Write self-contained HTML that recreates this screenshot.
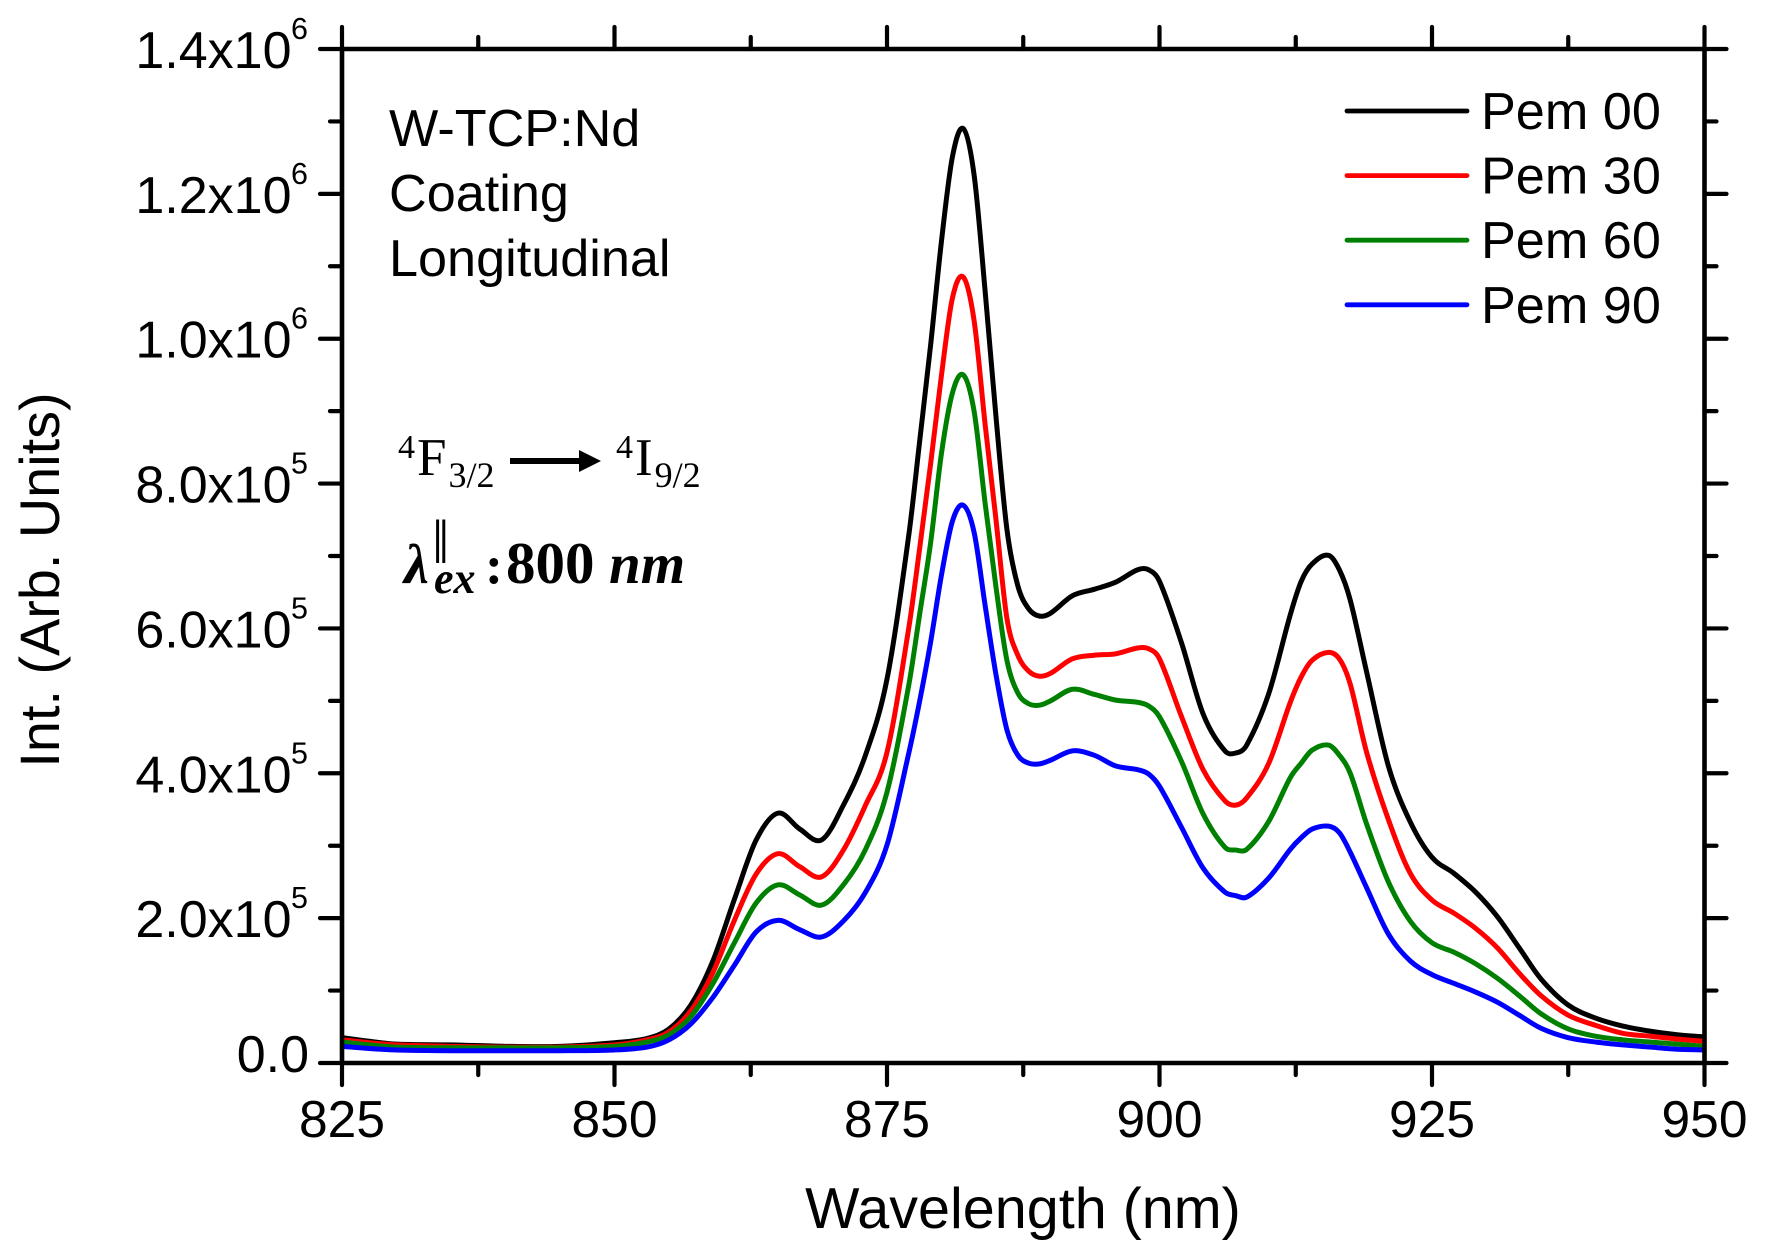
<!DOCTYPE html>
<html lang="en">
<head>
<meta charset="utf-8">
<title>W-TCP:Nd emission spectra</title>
<style>
html,body{margin:0;padding:0;background:#fff;}
svg{display:block;}
text{fill:#000;font-family:"Liberation Sans",Arial,sans-serif;}
.serif{font-family:"Liberation Serif","Times New Roman",serif;}
</style>
</head>
<body>
<svg id="chart" xmlns="http://www.w3.org/2000/svg" width="1771" height="1258" viewBox="0 0 1771 1258">
  <rect x="0" y="0" width="1771" height="1258" fill="#fff"/>
  <g id="curves" fill="none" stroke-width="5" stroke-linejoin="round" stroke-linecap="butt"></g>
  <g id="axes" stroke="#000" stroke-linecap="round" fill="none"></g>
  <g id="tick-labels"></g>

  <text x="1023" y="1228" font-size="57.5" text-anchor="middle">Wavelength (nm)</text>
  <text transform="translate(59,580) rotate(-90)" font-size="55.8" text-anchor="middle">Int. (Arb. Units)</text>

  <g font-size="52.2">
    <text x="389" y="146">W-TCP:Nd</text>
    <text x="389" y="211">Coating</text>
    <text x="389" y="276">Longitudinal</text>
  </g>

  <g>
    <text class="serif" x="398" y="475" font-size="53"><tspan font-size="34" dy="-17">4</tspan><tspan dy="17" dx="2">F</tspan><tspan font-size="36" dy="12" dx="2">3/2</tspan></text>
    <line x1="510" y1="461" x2="582" y2="461" stroke="#000" stroke-width="6"/>
    <polygon points="579,450 601,461 579,472" fill="#000"/>
    <text class="serif" x="616" y="475" font-size="53"><tspan font-size="34" dy="-17">4</tspan><tspan dy="17" dx="2">I</tspan><tspan font-size="36" dy="12" dx="2">9/2</tspan></text>
  </g>

  <g>
    <text class="serif" x="404" y="583" font-size="56" font-weight="bold" font-style="italic">λ</text>
    <text class="serif" x="432" y="563" font-size="62">‖</text>
    <text class="serif" x="434" y="593" font-size="44" font-weight="bold" font-style="italic">ex</text>
    <text class="serif" x="485" y="583" font-size="54" font-weight="bold">:</text>
    <text class="serif" x="506" y="583" font-size="59" font-weight="bold">800</text>
    <text class="serif" x="609" y="583" font-size="57" font-weight="bold" font-style="italic">nm</text>
  </g>

  <g id="legend" font-size="52.2"></g>
</svg>
<script>
// Chart data (wavelength in nm, intensity in thousands of arbitrary units)
const wavelengths = [825,827.5,830,835,840,845,850,853,855,857,859,861,863,865,867,869,871,873,875,877,878,879,880,881,882,883,884,885,886,887,888,889,890,892,894,896,898,899,900,902,904,906,907,908,910,912,913,914,915.5,916.5,917.5,919,921,923,925,927,929,931,933,935,937.5,940,942.5,945,947.5,950];
const pem00 = [35,30,26,25,23,23,28,34,47,80,140,226,308,345,323,308,356,424,530,729,859,991,1135,1251,1290,1225,1066,892,737,659,627,617,621,645,654,664,681,681,665,581,482,431,428,439,509,619,665,689,701,681,639,540,410,333,284,262,236,202,159,116,80,62,51,44,39,36];
const pem30 = [32,28,25,23,22,22,25,32,43,72,124,197,261,289,271,257,294,355,429,601,711,827,950,1056,1085,1024,882,750,614,563,541,534,538,558,563,565,573,572,558,479,405,362,356,366,413,498,533,556,567,558,523,429,336,262,225,207,186,159,124,93,66,52,41,37,33,30];
const pem60 = [29,25,22,21,21,21,23,29,39,64,109,166,221,246,232,218,246,294,374,522,620,718,842,925,950,899,773,657,556,511,496,494,500,516,509,501,498,493,478,417,344,298,294,295,333,394,414,432,439,425,400,330,250,196,166,153,137,117,93,68,47,37,32,29,26,23];
const pem90 = [23,20,18,17,17,17,18,22,32,54,90,135,181,197,184,174,196,235,301,428,500,581,674,748,770,732,632,536,460,425,414,413,418,431,425,410,405,399,382,326,269,236,231,229,255,295,311,323,327,318,291,242,178,141,122,110,98,84,66,48,35,29,25,22,19,18];
const seriesNames = ["Pem 00","Pem 30","Pem 60","Pem 90"];
const seriesColors = ["#000000","#ff0000","#008000","#0000ff"];
const seriesValues = [pem00,pem30,pem60,pem90];

// Axis ticks and labels
const xMajorTicks = [825,850,875,900,925,950];
const xMinorTicks = [837.5,862.5,887.5,912.5,937.5];
const xTickLabels = ["825","850","875","900","925","950"];
const yMajorTicks = [0,200,400,600,800,1000,1200,1400];
const yMinorTicks = [100,300,500,700,900,1100,1300];
const yTickLabels = ["0.0","2.0x10","4.0x10","6.0x10","8.0x10","1.0x10","1.2x10","1.4x10"];
const yTickExponents = ["","5","5","5","5","6","6","6"];

const NS = "http://www.w3.org/2000/svg";
const plotLeft = 342, plotRight = 1704.5, plotTop = 49, plotBottom = 1063;
const xMin = 825, xMax = 950, yMin = 0, yMax = 1400;
const xScale = function (v) { return plotLeft + (v - xMin) / (xMax - xMin) * (plotRight - plotLeft); };
const yScale = function (v) { return plotBottom - (v - yMin) / (yMax - yMin) * (plotBottom - plotTop); };

function svgEl(tag, attrs) {
  const el = document.createElementNS(NS, tag);
  for (const k in attrs) el.setAttribute(k, attrs[k]);
  return el;
}

function smoothPath(xs, ys) {
  const pts = xs.map(function (x, i) { return [xScale(x), yScale(ys[i])]; });
  let d = "M" + pts[0][0].toFixed(2) + " " + pts[0][1].toFixed(2);
  for (let i = 0; i < pts.length - 1; i++) {
    const p0 = pts[Math.max(i - 1, 0)], p1 = pts[i], p2 = pts[i + 1], p3 = pts[Math.min(i + 2, pts.length - 1)];
    const h = p2[0] - p1[0];
    const m1 = (p2[1] - p0[1]) / ((p2[0] - p0[0]) || 1);
    const m2 = (p3[1] - p1[1]) / ((p3[0] - p1[0]) || 1);
    d += "C" + (p1[0] + h / 3).toFixed(2) + " " + (p1[1] + m1 * h / 3).toFixed(2) + " " +
         (p2[0] - h / 3).toFixed(2) + " " + (p2[1] - m2 * h / 3).toFixed(2) + " " +
         p2[0].toFixed(2) + " " + p2[1].toFixed(2);
  }
  return d;
}

// Curves
const curves = document.getElementById("curves");
seriesValues.forEach(function (vals, i) {
  const path = svgEl("path", { d: smoothPath(wavelengths, vals), stroke: seriesColors[i] });
  
  
  curves.appendChild(path);
});

// Axes frame
const axes = document.getElementById("axes");
const axisWidth = 4.6, tickWidth = 4.2, majorLen = 22, minorLen = 12;
[
  ["axis-bottom", plotLeft, plotBottom, plotRight, plotBottom],
  ["axis-top", plotLeft, plotTop, plotRight, plotTop],
  ["axis-left", plotLeft, plotTop, plotLeft, plotBottom],
  ["axis-right", plotRight, plotTop, plotRight, plotBottom]
].forEach(function (a) {
  const line = svgEl("line", { x1: a[1], y1: a[2], x2: a[3], y2: a[4], "stroke-width": axisWidth });
  
  
  axes.appendChild(line);
});

function addXTick(v, len, kind) {
  const x = xScale(v);
  const bottom = svgEl("line", { x1: x, y1: plotBottom, x2: x, y2: plotBottom + len, "stroke-width": tickWidth });
  
  
  axes.appendChild(bottom);
  const top = svgEl("line", { x1: x, y1: plotTop, x2: x, y2: plotTop - len, "stroke-width": tickWidth });
  
  
  axes.appendChild(top);
}
function addYTick(v, len, kind) {
  const y = yScale(v);
  const left = svgEl("line", { x1: plotLeft, y1: y, x2: plotLeft - len, y2: y, "stroke-width": tickWidth });
  
  
  axes.appendChild(left);
  const right = svgEl("line", { x1: plotRight, y1: y, x2: plotRight + len, y2: y, "stroke-width": tickWidth });
  
  
  axes.appendChild(right);
}
xMajorTicks.forEach(function (v) { addXTick(v, majorLen, 'major'); });
xMinorTicks.forEach(function (v) { addXTick(v, minorLen, 'minor'); });
yMajorTicks.forEach(function (v) { addYTick(v, majorLen, 'major'); });
yMinorTicks.forEach(function (v) { addYTick(v, minorLen, 'minor'); });

// Tick labels
const tickLabels = document.getElementById("tick-labels");
xMajorTicks.forEach(function (v, i) {
  const t = svgEl("text", { x: xScale(v), y: 1137, "font-size": 51.5, "text-anchor": "middle" });
  t.textContent = xTickLabels[i];
  
  
  tickLabels.appendChild(t);
});
yMajorTicks.forEach(function (v, i) {
  const y = yScale(v);
  const hasExp = yTickExponents[i] !== "";
  const t = svgEl("text", { x: hasExp ? 291.5 : 309, y: hasExp ? y + 19 : y + 9, "font-size": 52, "text-anchor": "end" });
  t.textContent = yTickLabels[i];
  
  
  tickLabels.appendChild(t);
  if (hasExp) {
    const e = svgEl("text", { x: 291, y: y - 10, "font-size": 30.5 });
    e.textContent = yTickExponents[i];
    
    
    tickLabels.appendChild(e);
  }
});

// Legend
const legend = document.getElementById("legend");
seriesNames.forEach(function (name, i) {
  const cy = 111 + i * 64.6;
  const line = svgEl("line", { x1: 1347, y1: cy, x2: 1467, y2: cy, stroke: seriesColors[i], "stroke-width": 4.8, "stroke-linecap": "round" });
  
  
  legend.appendChild(line);
  const t = svgEl("text", { x: 1481, y: cy + 18 });
  t.textContent = name;
  
  
  legend.appendChild(t);
});
</script>
</body>
</html>
